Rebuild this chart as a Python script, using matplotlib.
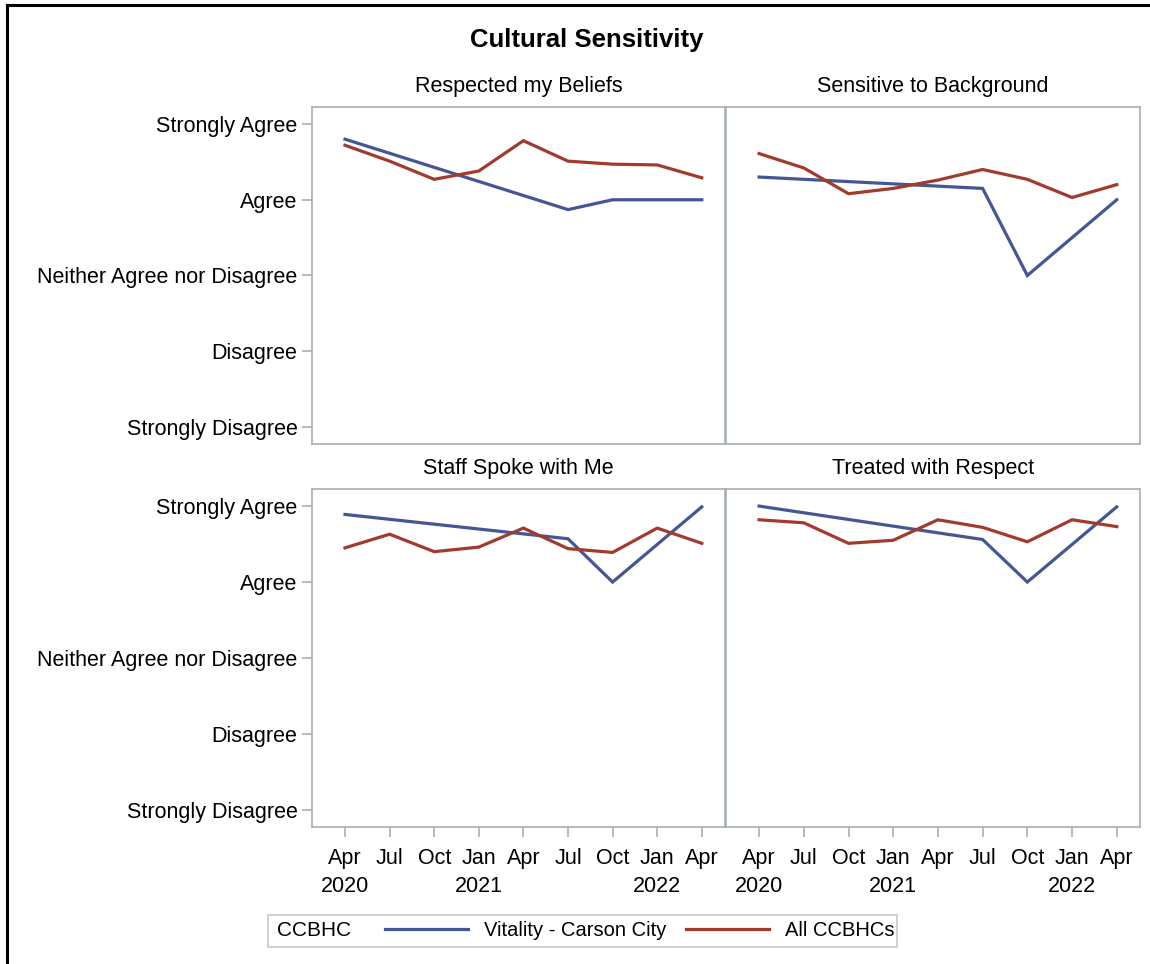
import matplotlib
matplotlib.use("Agg")
import matplotlib.pyplot as plt
from matplotlib.lines import Line2D
from matplotlib.patches import Rectangle

plt.rcParams['font.family'] = ['Liberation Sans', 'DejaVu Sans']

# --- data ---
quarters = ["Apr\n2020", "Jul", "Oct", "Jan\n2021", "Apr", "Jul", "Oct", "Jan\n2022", "Apr"]
levels = ["Strongly Disagree", "Disagree", "Neither Agree nor Disagree", "Agree", "Strongly Agree"]

titles = ["Respected my Beliefs", "Sensitive to Background",
          "Staff Spoke with Me", "Treated with Respect"]

# Vitality - Carson City only has some quarters
vitality_q = [0, 5, 6, 8]
vitality_beliefs = [4.80, 3.87, 4.00, 4.00]
vitality_background = [4.30, 4.15, 3.00, 4.00]
vitality_staff = [4.89, 4.57, 4.00, 4.99]
vitality_respect = [5.00, 4.56, 4.00, 4.99]

all_q = [0, 1, 2, 3, 4, 5, 6, 7, 8]
all_beliefs = [4.72, 4.51, 4.27, 4.38, 4.78, 4.51, 4.47, 4.46, 4.29]
all_background = [4.61, 4.42, 4.08, 4.15, 4.26, 4.40, 4.27, 4.03, 4.20]
all_staff = [4.45, 4.63, 4.40, 4.46, 4.71, 4.44, 4.39, 4.71, 4.51]
all_respect = [4.82, 4.78, 4.51, 4.55, 4.82, 4.72, 4.53, 4.82, 4.73]

vitality = [vitality_beliefs, vitality_background, vitality_staff, vitality_respect]
all_ccbhc = [all_beliefs, all_background, all_staff, all_respect]

BLUE = "#445694"
RED = "#A23A2E"
GRAY = "#a7afb2"

W, H = 1150, 964
fig = plt.figure(figsize=(W / 100, H / 100), dpi=100)

def px_box(l, r, t, b):
    return [l / W, 1 - b / H, (r - l) / W, (b - t) / H]

boxes = [px_box(312, 725, 107, 444), px_box(726, 1140, 107, 444),
         px_box(312, 725, 489, 827), px_box(726, 1140, 489, 827)]

for i, box in enumerate(boxes):
    ax = fig.add_axes(box)
    ax.plot(vitality_q, vitality[i], color=BLUE, lw=2.3, solid_joinstyle='miter')
    ax.plot(all_q, all_ccbhc[i], color=RED, lw=2.3, solid_joinstyle='miter')
    ax.set_xlim(-0.74, 8.52)
    ax.set_ylim(0.775, 5.225)
    for s in ax.spines.values():
        s.set_color(GRAY)
        s.set_linewidth(1.2)
    ax.set_title(titles[i], fontsize=15.5, pad=11)
    ax.tick_params(colors=GRAY, labelcolor="black", length=7, width=1.2, labelsize=15.5)
    ax.tick_params(axis='x', pad=8)
    ax.set_yticks([1, 2, 3, 4, 5])
    if i % 2 == 0:
        ax.set_yticklabels(levels)
    else:
        ax.tick_params(axis='y', left=False, labelleft=False)
    ax.set_xticks(all_q)
    if i >= 2:
        ax.set_xticklabels(quarters, linespacing=1.45)
    else:
        ax.tick_params(axis='x', bottom=False, labelbottom=False)

fig.text(587 / W, 1 - 40 / H, "Cultural Sensitivity", fontsize=18.5, fontweight='bold',
         ha='center', va='center')

# legend
fig.patches.append(Rectangle((268 / W, 1 - 947 / H), 629 / W, 32 / H,
                             transform=fig.transFigure, fill=False, ec="#c8c8c8", lw=1.2))
fig.text(277 / W, 1 - 931 / H, "CCBHC", fontsize=15, va='center', ha='left')
handles = [Line2D([], [], color=BLUE, lw=2.3), Line2D([], [], color=RED, lw=2.3)]
fig.legend(handles, ["Vitality - Carson City", "All CCBHCs"], ncol=2, frameon=False,
           loc='center left', bbox_to_anchor=(385 / W, 1 - 931 / H), fontsize=14.5,
           handlelength=4.1, handletextpad=0.8, columnspacing=1.0, borderpad=0,
           borderaxespad=0)

# screenshot border (left and top)
fig.add_artist(Line2D([7 / W, 7 / W], [0, 1 - 5 / H], color='black', lw=2.2,
                      transform=fig.transFigure))
fig.add_artist(Line2D([7 / W, 1], [1 - 5 / H, 1 - 5 / H], color='black', lw=2.2,
                      transform=fig.transFigure))

fig.savefig("out.png", dpi=100, facecolor='white')
